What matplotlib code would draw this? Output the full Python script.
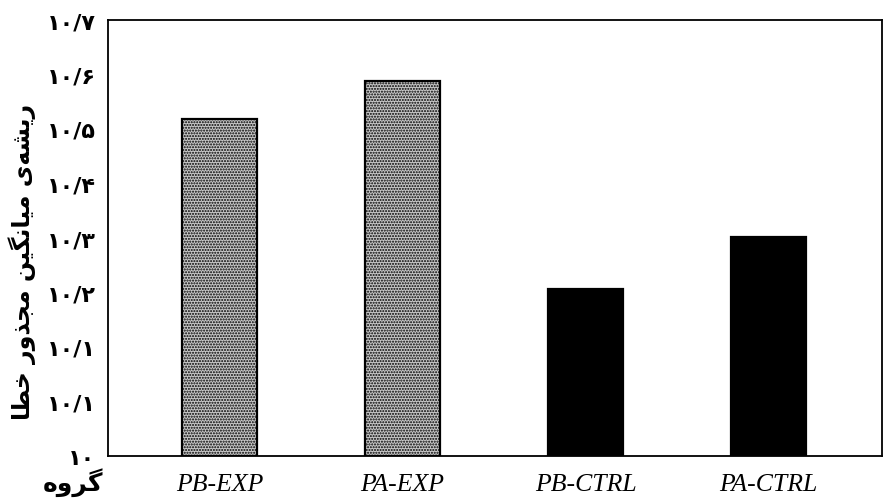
import numpy as np
import matplotlib
matplotlib.use("Agg")
import matplotlib.pyplot as plt

# ---------------- data ----------------
categories = ["PB-EXP", "PA-EXP", "PB-CTRL", "PA-CTRL"]
values = [10.541, 10.602, 10.268, 10.351]
ytick_values = [10.0, 10.0875, 10.175, 10.2625, 10.35, 10.4375, 10.525, 10.6125, 10.7]
ytick_labels = ["۱۰", "۱۰/۱", "۱۰/۱", "۱۰/۲", "۱۰/۳", "۱۰/۴", "۱۰/۵", "۱۰/۶", "۱۰/۷"]
ylabel_text = "ریشه\u200cی میانگین مجذور خطا"
xlabel_text = "گروه"

# ---------------- simple Persian shaping (presentation forms) ----------------
# char: (isolated, final, initial, medial) ; None for initial/medial = right-joining only
FORMS = {
    "ا": ("\uFE8D", "\uFE8E", None, None),
    "ر": ("\uFEAD", "\uFEAE", None, None),
    "ذ": ("\uFEAB", "\uFEAC", None, None),
    "و": ("\uFEED", "\uFEEE", None, None),
    "ی": ("\uFBFC", "\uFBFD", "\uFBFE", "\uFBFF"),
    "ش": ("\uFEB5", "\uFEB6", "\uFEB7", "\uFEB8"),
    "ه": ("\uFEE9", "\uFEEA", "\uFEEB", "\uFEEC"),
    "م": ("\uFEE1", "\uFEE2", "\uFEE3", "\uFEE4"),
    "ن": ("\uFEE5", "\uFEE6", "\uFEE7", "\uFEE8"),
    "گ": ("\uFB92", "\uFB93", "\uFB94", "\uFB95"),
    "ج": ("\uFE9D", "\uFE9E", "\uFE9F", "\uFEA0"),
    "خ": ("\uFEA5", "\uFEA6", "\uFEA7", "\uFEA8"),
    "ط": ("\uFEC1", "\uFEC2", "\uFEC3", "\uFEC4"),
}


def shape(text):
    out = []
    n = len(text)
    for i, ch in enumerate(text):
        if ch not in FORMS:
            if ch != "\u200c":
                out.append(ch)
            continue
        prev = text[i - 1] if i > 0 else None
        nxt = text[i + 1] if i < n - 1 else None
        join_prev = prev in FORMS and FORMS[prev][2] is not None
        join_next = nxt in FORMS and FORMS[ch][2] is not None
        iso, fin, ini, med = FORMS[ch]
        if join_prev and join_next:
            out.append(med)
        elif join_prev:
            out.append(fin)
        elif join_next:
            out.append(ini)
        else:
            out.append(iso)
    return "".join(out)[::-1]


# ---------------- figure ----------------
fig = plt.figure(figsize=(8.87, 5.02), dpi=100)
ax = fig.add_axes([108 / 887, 1 - 457 / 502, (882 - 108) / 887, (457 - 21) / 502])

x = np.arange(len(categories))
colors = ["#c8c8c8", "#c8c8c8", "black", "black"]
hatches = ["......", "......", None, None]
for xi, v, c, h in zip(x, values, colors, hatches):
    ax.bar(xi, v - 10.0, bottom=10.0, width=0.41, color=c, edgecolor="black",
           linewidth=1.6, hatch=h)

ax.set_xlim(-0.61, 3.62)
ax.set_ylim(10.0, 10.7)
ax.set_xticks(x)
ax.set_xticklabels(categories, fontfamily="Liberation Serif", fontstyle="italic",
                   fontsize=18.5)
ax.set_yticks(ytick_values)
ax.set_yticklabels(ytick_labels, fontfamily="DejaVu Sans", fontweight="bold",
                   fontsize=16)
ax.tick_params(axis="x", length=0, pad=12)
ax.tick_params(axis="y", length=0, pad=9)
for s in ax.spines.values():
    s.set_linewidth(1.3)
    s.set_color("black")

fig.text(22 / 887, 1 - 262 / 502, shape(ylabel_text), rotation=90,
         ha="center", va="center", fontsize=17, fontweight="bold",
         fontfamily="DejaVu Sans")
fig.text(73 / 887, 1 - 483 / 502, shape(xlabel_text), ha="center", va="center",
         fontsize=18, fontweight="bold", fontfamily="DejaVu Sans")

fig.savefig("out.png", dpi=100)
